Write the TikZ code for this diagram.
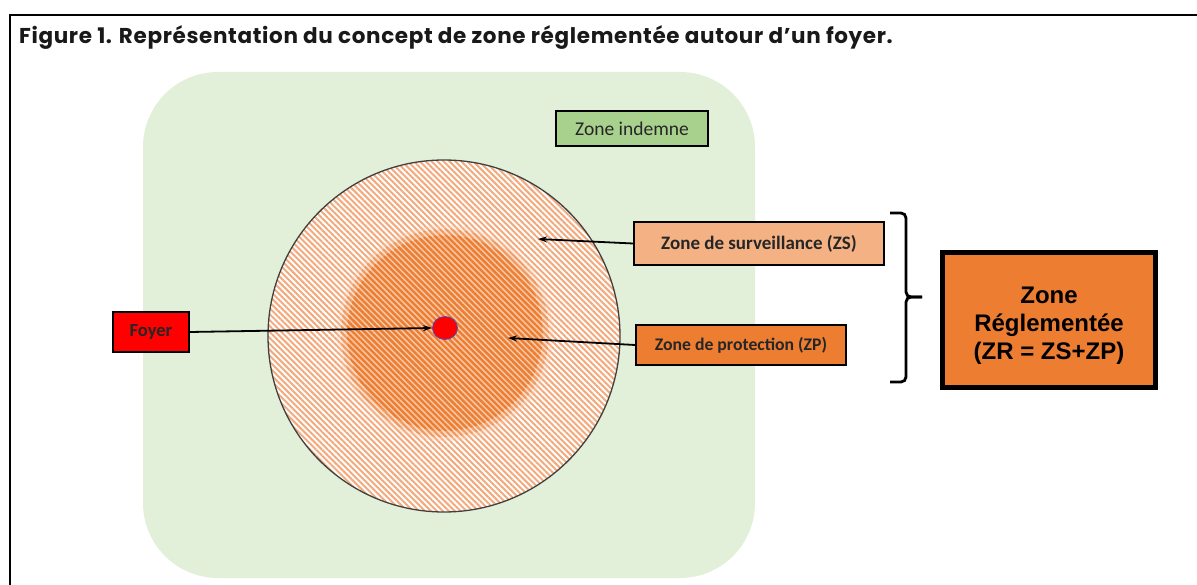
\documentclass[tikz,border=0pt]{standalone}
\usepackage{fontspec}
\setmainfont{Carlito}
\newfontfamily\titlefont{Poppins}[LetterSpace=3]
\newfontfamily\arialfont{Liberation Sans}
\usetikzlibrary{arrows.meta,patterns.meta,shapes.geometric}
\definecolor{bggreen}{HTML}{E2EFD9}
\definecolor{boxgreen}{HTML}{A9D18E}
\definecolor{peach}{HTML}{F4B183}
\definecolor{lpeach}{HTML}{F8C6A4}
\definecolor{orng}{HTML}{ED7D31}
\definecolor{stripeA}{HTML}{F4A97C}
\tikzset{
  lbl/.style={draw=black, line width=1.8pt, inner sep=0pt, font=\bfseries\fontsize{19}{22}\selectfont, text=black!85},
  conn/.style={line width=1.8pt, -{Stealth[length=9pt,width=6pt]}},
}
\begin{document}
\begin{tikzpicture}[x=1pt,y=-1pt]
\useasboundingbox (0,0) rectangle (1197,585);
% frame
\draw[line width=2pt] (10,585) -- (10,15) -- (1197,15);
\node[anchor=base west, inner sep=0pt, font=\titlefont\bfseries\fontsize{21.5}{26}\selectfont, text=black!90] (title) at (19,44) {Figure 1. Représentation du concept de zone réglementée autour d’un foyer.};
% green area
\fill[bggreen, rounded corners=75pt] (143,72) rectangle (755,578);
% outer circle
\fill[white] (444,336) circle (176);
\fill[pattern={Lines[angle=-45,distance=4.2pt,line width=2pt]}, pattern color=stripeA] (444,336) circle (176);
% inner circle with soft edge
\fill[lpeach, opacity=0.25] (445,333) circle (108);
\fill[lpeach, opacity=0.4] (445,333) circle (103);
\fill[lpeach] (445,333) circle (97);
\begin{scope}[opacity=0.5]
\fill[pattern={Lines[angle=-45,distance=4.2pt,line width=2.2pt]}, pattern color=orng] (445,333) circle (104);
\end{scope}
\fill[pattern={Lines[angle=-45,distance=4.2pt,line width=2.2pt]}, pattern color=orng] (445,333) circle (98);
\draw[line width=1.3pt, black!75] (444,336) circle (176);
% dot
\node[ellipse, draw=blue!40!gray, line width=0.8pt, fill=red, minimum width=25pt, minimum height=23pt, inner sep=0pt] (dot) at (445,328) {};
% boxes
\node[lbl, fill=red, minimum width=76pt, minimum height=40pt, font=\bfseries\fontsize{18.5}{20}\selectfont] (foyer) at (151,332) {Foyer};
\node[lbl, fill=boxgreen, minimum width=152pt, minimum height=35pt, font=\fontsize{19.5}{22}\selectfont] (indemne) at (632,128.5) {Zone indemne};
\node[lbl, fill=peach, minimum width=250pt, minimum height=43pt] (zs) at (759,243.5) {Zone de surveillance (ZS)};
\node[lbl, fill=orng, minimum width=210pt, minimum height=40pt, font=\bfseries\fontsize{17.7}{20}\selectfont] (zp) at (741,345) {Zone de protection (ZP)};
\coordinate (zsT) at (538,239);
\coordinate (zpT) at (508,338);
\draw[conn] (foyer.east) -- (dot.west);
\draw[conn] (zs.west) -- (zsT);
\draw[conn] (zp.west) -- (zpT);
% brace
\coordinate (b1) at (890,213);
\coordinate (b2) at (906,213);
\coordinate (b3) at (906,297);
\coordinate (b4) at (922,297);
\coordinate (b5) at (906,382);
\coordinate (b6) at (890,382);
\draw[line width=2.8pt, rounded corners=5pt] (b1) -- (b2) -- (b3) -- (b4);
\draw[line width=2.8pt, rounded corners=5pt] (b4) -- (b3) -- (b5) -- (b6);
% ZR box
\node[draw=black, line width=5pt, fill=orng, minimum width=213pt, minimum height=135pt, inner sep=0pt] (zr) at (1049,320) {};
\node[align=center, inner sep=0pt, font=\arialfont\bfseries\fontsize{24}{28}\selectfont] (zrtext) at (1049,326) {Zone\\Réglementée\\(ZR = ZS+ZP)};
\end{tikzpicture}
\end{document}
